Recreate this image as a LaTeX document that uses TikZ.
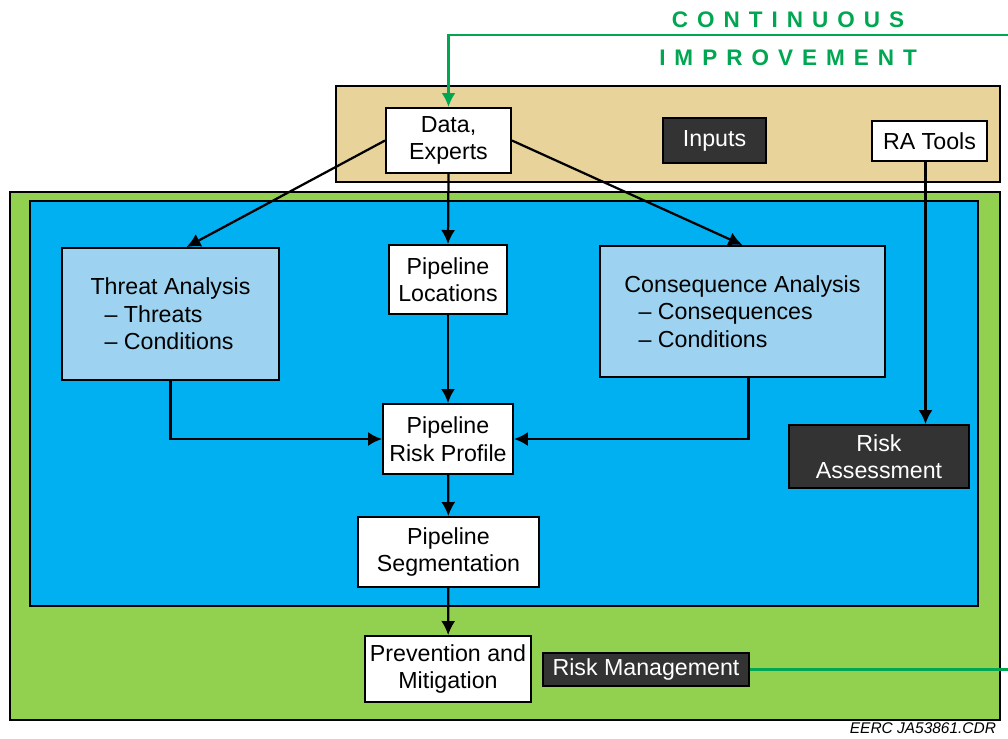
\documentclass[tikz,border=0pt]{standalone}
\usepackage{fontspec}
\setmainfont{Liberation Sans}
\newfontfamily\spacedfont[LetterSpace=40]{Liberation Sans}
\usetikzlibrary{arrows.meta, calc, positioning}

\definecolor{inputtan}{HTML}{E8D49A}
\definecolor{mgmtgreen}{HTML}{92D050}
\definecolor{assessblue}{HTML}{00B0F0}
\definecolor{analysisblue}{HTML}{9DD3F0}
\definecolor{darkbox}{HTML}{333333}
\definecolor{loopgreen}{HTML}{00A651}

\newcommand\boxfont{\fontsize{16.5}{19.5}\selectfont}

\begin{document}
\begin{tikzpicture}[x=0.025cm, y=-0.025cm, >={Latex[length=10pt,width=10pt]},
    box/.style={draw, line width=1.3pt, fill=white, align=center, inner sep=1pt, font=\boxfont},
    analysis/.style={box, fill=analysisblue, align=left},
    dark/.style={box, fill=darkbox, text=white},
    arr/.style={->, line width=1.6pt},
    loopline/.style={line width=2pt, loopgreen}]
\useasboundingbox (0,0) rectangle (1008,738);

% layers
\draw[line width=1.3pt, fill=inputtan] (336,86) rectangle (1000,182);
\draw[line width=1.3pt, fill=mgmtgreen] (10,192) rectangle (1000,720);
\draw[line width=1.3pt, fill=assessblue] (30,201) rectangle (978,606);

% inputs
\node[box, minimum width=3.125cm, minimum height=1.625cm] (data) at (448.5,140.5) {Data,\\Experts};
\node[dark, minimum width=2.575cm, minimum height=1.125cm] (inputs) at (714.5,140.5) {Inputs};
\node[box, minimum width=2.875cm, minimum height=1cm] (ratools) at (929.5,141) {RA Tools};

% assessment
\node[analysis, minimum width=5.425cm, minimum height=3.3cm, text depth=-3pt] (threat) at (170.5,314)
    {Threat Analysis\\\hspace*{10pt}-- Threats\\\hspace*{10pt}-- Conditions};
\node[box, minimum width=2.95cm, minimum height=1.725cm] (locations) at (448,279.5) {Pipeline\\Locations};
\node[analysis, minimum width=7.125cm, minimum height=3.275cm] (conseq) at (742.5,311.5)
    {Consequence Analysis\\\hspace*{10pt}-- Consequences\\\hspace*{10pt}-- Conditions};
\node[box, minimum width=3.25cm, minimum height=1.75cm] (profile) at (448,439) {Pipeline\\Risk Profile};
\node[dark, minimum width=4.5cm, minimum height=1.575cm] (assess) at (879,456.5) {Risk\\Assessment};
\node[box, minimum width=4.525cm, minimum height=1.75cm] (segment) at (448.5,552) {Pipeline\\Segmentation};

% management
\node[box, minimum width=4.15cm, minimum height=1.65cm] (prevent) at (448,669) {Prevention and\\Mitigation};
\node[dark, minimum width=5.15cm, minimum height=0.825cm] (riskman) at (646,669.5) {Risk Management};

% continuous improvement loop
\node[text=loopgreen, font=\spacedfont\bfseries\fontsize{16}{19}\selectfont] (cont) at (788,20) {CONTINUOUS};
\node[text=loopgreen, font=\spacedfont\bfseries\fontsize{16}{19}\selectfont] (impr) at (788,58) {IMPROVEMENT};
\coordinate (loopin) at (1008,35);
\coordinate (loopout) at (1008,669.5);
\draw[loopline] (riskman.east) -- (loopout);
\draw[loopline, ->] (loopin) -- (data.north |- loopin) -- (data.north);

% flow
\draw[arr] (data.west) -- ($(threat.north)+(16,0)$);
\draw[arr] (data.south) -- (locations.north);
\draw[arr] (data.east) -- (conseq.north);
\draw[arr] (threat.south) |- (profile.west);
\draw[arr] ($(conseq.south)+(6,0)$) |- (profile.east);
\draw[arr] (locations) -- (profile);
\draw[arr] (profile) -- (segment);
\draw[arr] (segment) -- (prevent);
\draw[arr] ($(ratools.south)+(-4,0)$) -- ($(ratools.south |- assess.north)+(-4,0)$);

\node[anchor=east, font=\itshape\fontsize{11}{13}\selectfont] (tag) at (1001,728) {EERC JA53861.CDR};
\end{tikzpicture}
\end{document}
